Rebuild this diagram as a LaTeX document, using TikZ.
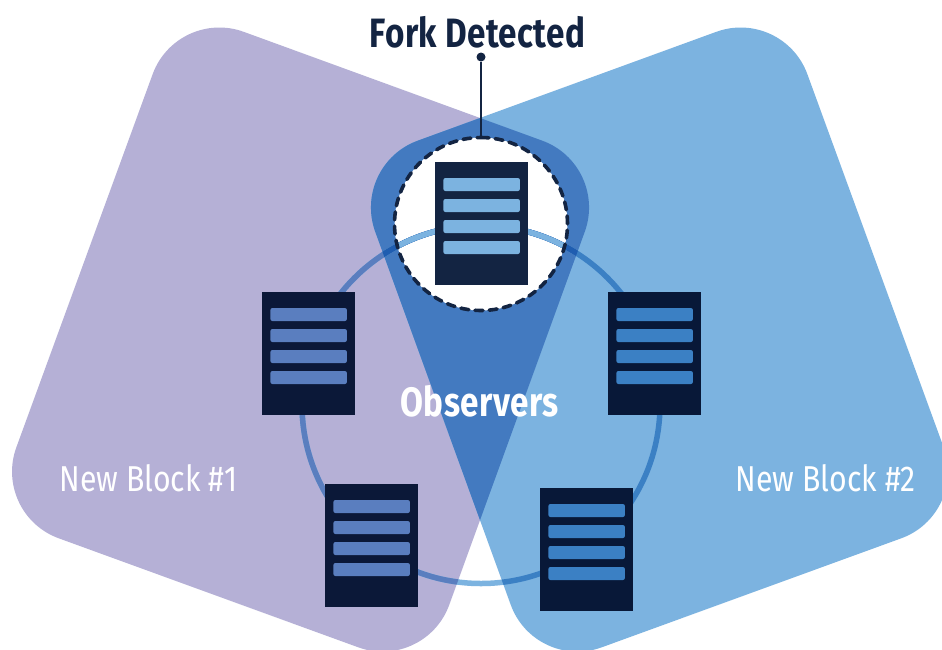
\documentclass[tikz,border=0pt]{standalone}
\usepackage{fontspec}
\setmainfont{Fira Sans}
\newfontfamily\condB[FakeStretch=0.81,LetterSpace=1]{Fira Sans Bold}
\newfontfamily\condR[FakeStretch=0.84]{Fira Sans}
\definecolor{purp}{HTML}{B5B0D6}
\definecolor{lblue}{HTML}{7CB3E0}
\definecolor{lens}{HTML}{437AC0}
\definecolor{ringP}{HTML}{5A7EBF}
\definecolor{ringB}{HTML}{3B80C4}
\definecolor{ringD}{HTML}{1F5DB0}
\definecolor{navyT}{HTML}{132442}
\definecolor{navyL}{HTML}{0B1838}
\definecolor{navyR}{HTML}{081838}
\newcommand{\leftshape}{(177,7.5) -- (609,165) -- (425,671.6) -- (-8,514) -- cycle}
\newcommand{\rightshape}{(783,7.5) -- (968,514) -- (535,671.6) -- (351,165) -- cycle}
\newcommand{\ringpath}{(481,404.5) circle[radius=179]}
\newcommand{\forkdisc}{(481,224) circle[radius=86.5]}
% name, left x, top y, box colour, bar colour
\newcommand{\serverbox}[5]{%
  \node[serverbody,fill=#4,anchor=north west] (#1) at (#2,#3) {};
  \foreach \k in {0,1,2,3}
    \node[serverbar,fill=#5,anchor=north west] (#1bar\k) at ({#2+8.2},{#3+15.8+21*\k}) {};
}
\tikzset{
  serverbody/.style={draw=none,rectangle,inner sep=0,minimum width=93pt,minimum height=123pt},
  serverbar/.style={draw=none,rectangle,rounded corners=2pt,inner sep=0,minimum width=76.5pt,minimum height=13pt},
  ringline/.style={line width=5.5pt},
  blockshape/.style={rounded corners=71pt},
  title/.style={inner sep=0,font=\condB\fontsize{41}{41}\selectfont},
  blocklabel/.style={inner sep=0,text=white,font=\condR\fontsize{36}{36}\selectfont},
}
\begin{document}
\begin{tikzpicture}[x=1pt,y=-1pt]
\clip (0,0) rectangle (942,649);
\fill[white] (0,0) rectangle (942,649);
% block regions
\fill[purp,blockshape] \leftshape;
\fill[lblue,blockshape] \rightshape;
\begin{scope}
  \clip[blockshape] \leftshape;
  \fill[lens,blockshape] \rightshape;
\end{scope}
% detected observer disc
\node[circle,fill=white,draw=none,minimum size=173pt,inner sep=0] (fork) at (481,224) {};
% observer ring, tinted by whatever lies under it
\draw[lblue,ringline] \ringpath;
\begin{scope}
  \clip[blockshape] \leftshape;
  \draw[ringP,ringline] \ringpath;
\end{scope}
\begin{scope}
  \clip[blockshape] \rightshape;
  \draw[ringB,ringline] \ringpath;
\end{scope}
\begin{scope}
  \clip[blockshape] \leftshape;
  \clip[blockshape] \rightshape;
  \draw[ringD,ringline] \ringpath;
\end{scope}
\begin{scope}
  \clip \forkdisc;
  \draw[lblue,ringline] \ringpath;
\end{scope}
% dashed outline
\draw[navyT,line width=3.6pt,dash pattern=on 8pt off 6.2pt,line cap=round] (fork.center) ++(0,-86.5) arc[start angle=-90,end angle=270,radius=86.5];
% servers
\serverbox{top}{435}{162}{navyT}{lblue}
\serverbox{ul}{262}{292}{navyL}{ringP}
\serverbox{ll}{325}{484}{navyL}{ringP}
\serverbox{ur}{608}{292}{navyR}{ringB}
\serverbox{lr}{540}{488}{navyR}{ringB}
% labels
\node[title,text=navyT] (forklabel) at (477.5,32) {Fork Detected};
\node[circle,fill=navyT,minimum size=9pt,inner sep=0] (pin) at (481,57) {};
\draw[navyT,line width=2pt] (pin) -- (fork.north);
\node[title,text=white] (obs) at (479.5,401) {Observers};
\node[blocklabel] (b1) at (148.5,478) {New Block \#1};
\node[blocklabel] (b2) at (825.5,478) {New Block \#2};
\end{tikzpicture}
\end{document}
